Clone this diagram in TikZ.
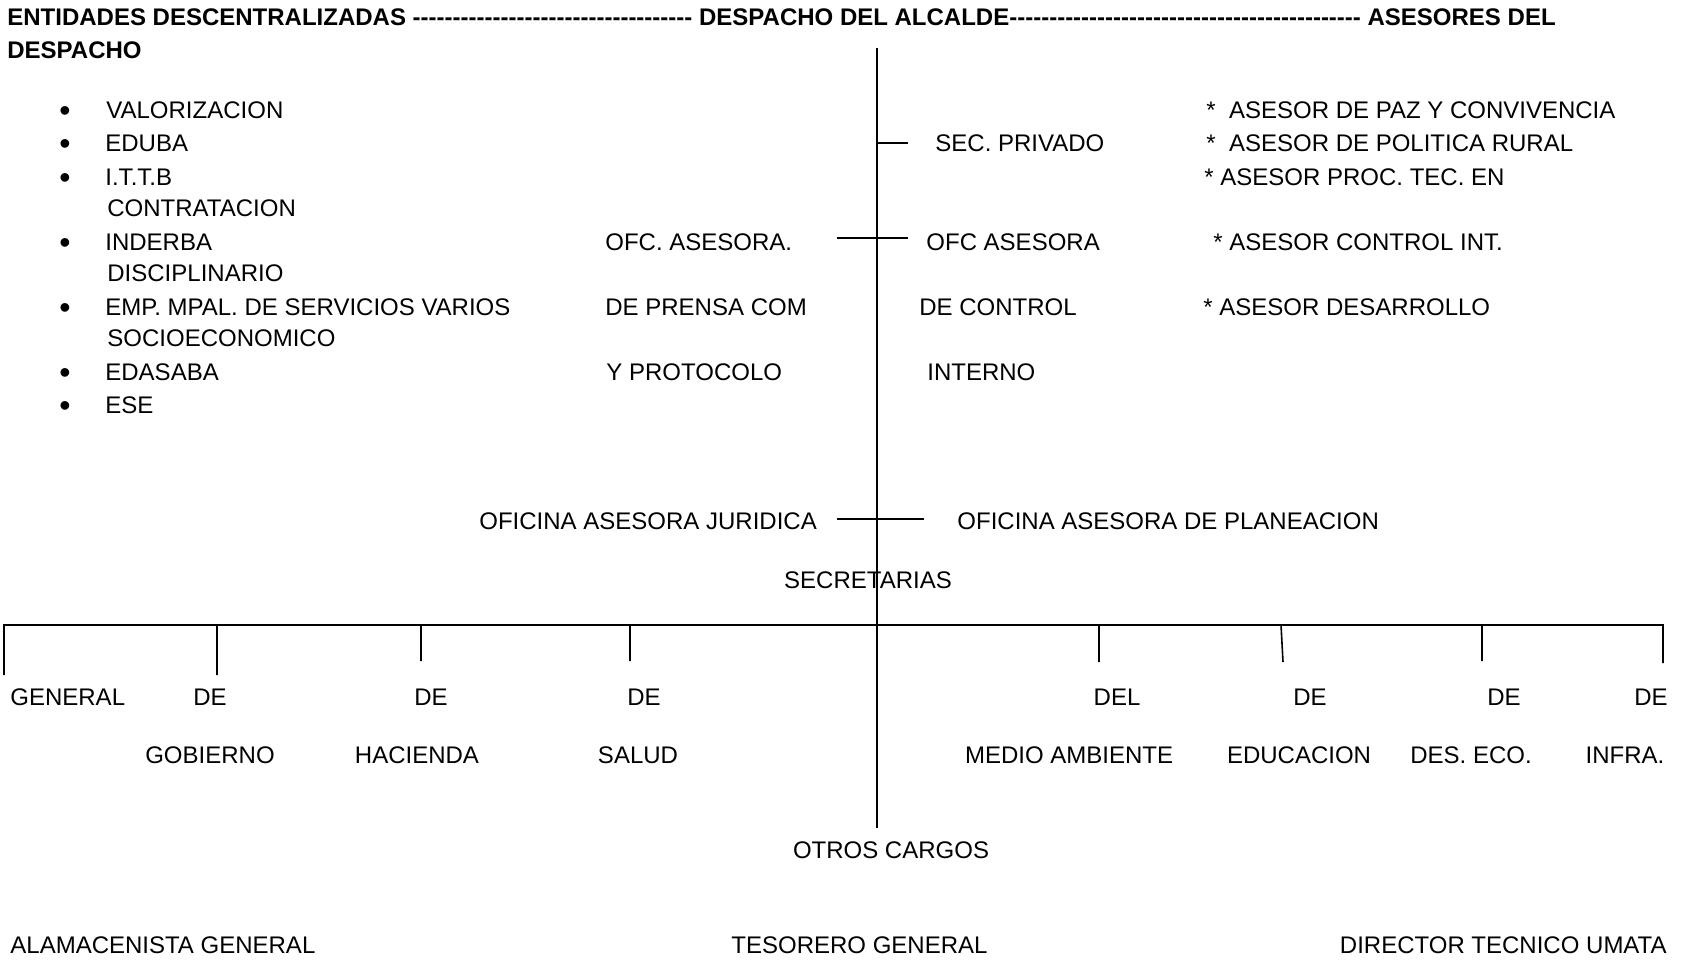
\documentclass[tikz,border=0pt]{standalone}
\usepackage{fontspec}
\setmainfont{Liberation Sans}
\usetikzlibrary{positioning,calc}

\newcommand{\dashrun}[1]{\foreach \k in {1,...,#1}{\hbox{-}}}

\begin{document}
\begin{tikzpicture}[x=0.5pt, y=-0.5pt,
        txt/.style={inner sep=0pt, text height=8.6pt, text depth=0pt, font=\fontsize{12}{14}\selectfont},
        lbl/.style={txt, anchor=west},
        ttl/.style={lbl, font=\fontsize{12}{14}\selectfont\bfseries},
        dot/.style={txt, font=\fontsize{16}{16}\selectfont, yshift=-1.5pt},
        line/.style={draw, line width=0.8pt},
        bar/.style={draw, line width=1pt}
      ]
      \useasboundingbox (0,0) rectangle (1689,960);

      % title
      \node (TL) at (7,17) [ttl] {ENTIDADES DESCENTRALIZADAS \dashrun{35} DESPACHO DEL ALCALDE\dashrun{44} ASESORES DEL};
      \node (TL2) at (7,50) [ttl] {DESPACHO};

      % entidades
      \node (B1) at (65,110) [dot] {•};
      \node (B2) at (65,143) [dot] {•};
      \node (B3) at (65,177) [dot] {•};
      \node (B4) at (65,242) [dot] {•};
      \node (B5) at (65,307) [dot] {•};
      \node (B6) at (65,372) [dot] {•};
      \node (B7) at (65,405) [dot] {•};
      \node (VAL) at (106,110) [lbl] {VALORIZACION};
      \node (EDU) at (105,143) [lbl] {EDUBA};
      \node (ITTB) at (105,177) [lbl] {I.T.T.B};
      \node (CON) at (107,208) [lbl] {CONTRATACION};
      \node (IND) at (105,242) [lbl] {INDERBA};
      \node (DIS) at (107,273) [lbl] {DISCIPLINARIO};
      \node (EMP) at (105,307) [lbl] {EMP. MPAL. DE SERVICIOS VARIOS};
      \node (SOC) at (107,338) [lbl] {SOCIOECONOMICO};
      \node (EDA) at (105,372) [lbl] {EDASABA};
      \node (ESE) at (105,405) [lbl] {ESE};

      % oficinas del despacho
      \node (OP1) at (605,242) [lbl] {OFC. ASESORA.};
      \node (OP2) at (605,307) [lbl] {DE PRENSA COM};
      \node (OP3) at (606,372) [lbl] {Y PROTOCOLO};
      \node (SP) at (935,143) [lbl] {SEC. PRIVADO};
      \node (OC1) at (926,242) [lbl] {OFC ASESORA};
      \node (OC2) at (919,307) [lbl] {DE CONTROL};
      \node (OC3) at (927,372) [lbl] {INTERNO};

      % asesores
      \node (A1) at (1206,110) [lbl] {*\ \ ASESOR DE PAZ Y CONVIVENCIA};
      \node (A2) at (1206,143) [lbl] {*\ \ ASESOR DE POLITICA RURAL};
      \node (A3) at (1204,177) [lbl] {* ASESOR PROC. TEC. EN};
      \node (A4) at (1213,242) [lbl] {* ASESOR CONTROL INT.};
      \node (A5) at (1203,307) [lbl] {* ASESOR DESARROLLO};

      % oficinas asesoras
      \node (OJ) at (479,521) [lbl] {OFICINA ASESORA JURIDICA};
      \node (OPL) at (957,521) [lbl] {OFICINA ASESORA DE PLANEACION};
      \node (SEC) at (868,580) [txt] {SECRETARIAS};

      % secretarias
      \node (S1a) at (10,697) [lbl] {GENERAL};
      \node (S2a) at (210,697) [txt] {DE};
      \node (S2b) at (210,755) [txt] {GOBIERNO};
      \node (S3a) at (431,697) [txt] {DE};
      \node (S3b) at (417,755) [txt] {HACIENDA};
      \node (S4a) at (644,697) [txt] {DE};
      \node (S4b) at (638,755) [txt] {SALUD};
      \node (S5a) at (1117,697) [txt] {DEL};
      \node (S5b) at (1069,755) [txt] {MEDIO AMBIENTE};
      \node (S6a) at (1310,697) [txt] {DE};
      \node (S6b) at (1299,755) [txt] {EDUCACION};
      \node (S7a) at (1504,697) [txt] {DE};
      \node (S7b) at (1471,755) [txt] {DES. ECO.};
      \node (S8a) at (1651,697) [txt] {DE};
      \node (S8b) at (1625,755) [txt] {INFRA.};

      % otros cargos
      \node (OTR) at (891,850) [txt] {OTROS CARGOS};
      \node (ALM) at (10,945) [lbl] {ALAMACENISTA GENERAL};
      \node (TES) at (731,945) [lbl] {TESORERO GENERAL};
      \node (DIR) at (1667,945) [txt, anchor=east] {DIRECTOR TECNICO UMATA};

      % lineas
      \coordinate (TOP) at (877,48);
      \coordinate (BOT) at (877,828);
      \coordinate (T1) at (877,143);
      \coordinate (T1e) at (908,143);
      \coordinate (T2) at (837,238);
      \coordinate (T2e) at (908,238);
      \coordinate (T3) at (837,519);
      \coordinate (T3e) at (924,519);
      \path[line] (TOP) -- (BOT) (T1) -- (T1e) (T2) -- (T2e) (T3) -- (T3e);

      \coordinate (BL) at (3,625);
      \coordinate (BR) at (1664,625);
      \path[bar] (BL) -- (BR);

      \coordinate (D1) at (4,625);    \coordinate (D1e) at (4,675);
      \coordinate (D2) at (217,625);  \coordinate (D2e) at (217,675);
      \coordinate (D3) at (421,625);  \coordinate (D3e) at (421,661);
      \coordinate (D4) at (630,625);  \coordinate (D4e) at (630,661);
      \coordinate (D5) at (1099,625); \coordinate (D5e) at (1099,662);
      \coordinate (D6) at (1281,625); \coordinate (D6e) at (1283,662);
      \coordinate (D7) at (1482,625); \coordinate (D7e) at (1482,661);
      \coordinate (D8) at (1663,625); \coordinate (D8e) at (1663,663);
      \path[line]
        (D1) -- (D1e) (D2) -- (D2e) (D3) -- (D3e) (D4) -- (D4e)
        (D5) -- (D5e) (D6) -- (D6e) (D7) -- (D7e) (D8) -- (D8e);
    \end{tikzpicture}
\end{document}
